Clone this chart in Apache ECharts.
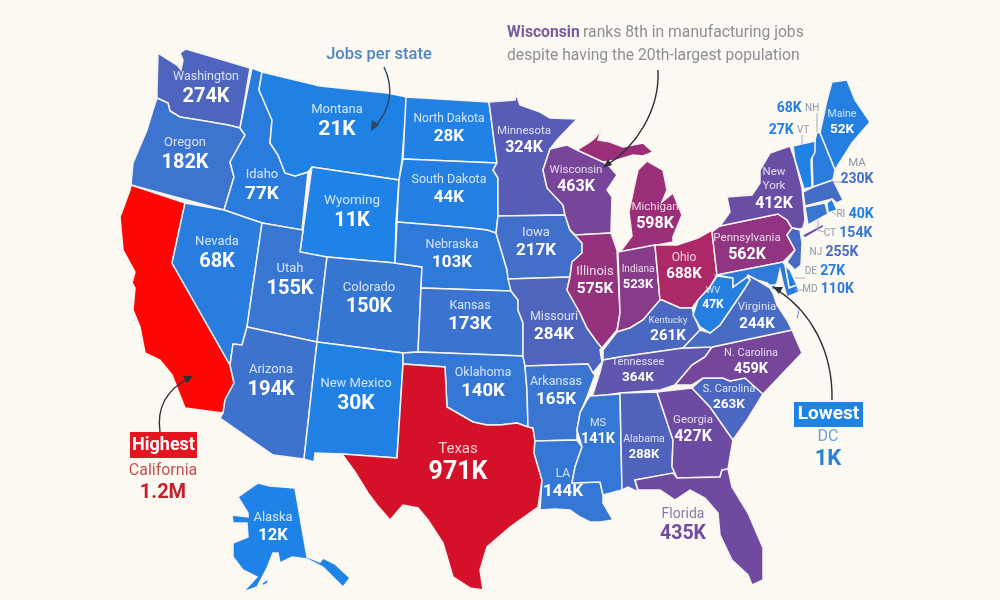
<!DOCTYPE html>
<html>
<head>
<meta charset="utf-8">
<style>html,body{margin:0;padding:0;background:#fbf9f2}#c{width:1000px;height:600px}</style>
<script src="https://cdn.jsdelivr.net/npm/echarts@6/dist/echarts.min.js"></script>
</head>
<body>
<div id="c"></div>
<script>
// ---- data (thousands of manufacturing jobs) ----
const states = ["Washington","Oregon","California","Idaho","Nevada","Montana","Wyoming","Utah","Arizona","Colorado","New Mexico","North Dakota","South Dakota","Nebraska","Kansas","Oklahoma","Texas","Minnesota","Iowa","Missouri","Arkansas","LA","Wisconsin","Illinois","Michigan","Indiana","Ohio","Kentucky","Tennessee","MS","Alabama","Georgia","Florida","S. Carolina","N. Carolina","Virginia","WV","Pennsylvania","New York","Maine","NH","VT","MA","RI","CT","NJ","DE","MD","DC","Alaska"];
const jobs = [274,182,1200,77,68,21,11,155,194,150,30,28,44,103,173,140,971,324,217,284,165,144,463,575,598,523,688,261,364,141,288,427,435,263,459,244,47,562,412,52,68,27,230,40,154,255,27,110,1,12];

// ---- colour scale ----
const colorStops = ["#1c83e8","#3f72cc","#6650a8","#9b2e78","#c4204f","#d80f22","#fd0606"];
const maxJobs = 1200;

// ---- map geometry: outlines (x,y of a 1000x600 frame) ----
const outlines = {
 "Washington":["158,53 169,60 178,66 181,70 183,60 180,53 186,49 250,68 240,128 228,125 205,121 180,117 170,111 168,103 157,98 157,90"],
 "Oregon":["157,98 168,103 170,111 180,117 205,121 228,125 240,128 245,135 230,162 234,177 224,210 131,185 133,163 147,130 153,110"],
 "California":["131,185 185,203 172,263 230,365 234,383 225,400 223,413 185,408 172,375 160,360 145,353 140,327 133,310 135,288 132,283 135,272 123,250 120,217 130,190"],
 "Idaho":["252,68 262,72 259,90 272,120 270,143 278,155 285,173 295,176 308,172 302,230 262,223 224,210 234,177 230,162 245,135 240,128"],
 "Nevada":["185,203 224,210 262,223 247,327 242,345 233,344 230,365 172,263"],
 "Montana":["262,72 320,86 387,93 407,97 402,160 399,180 312,167 308,172 295,176 285,173 278,155 270,143 272,120 259,90"],
 "Wyoming":["312,167 399,180 396,222 395,263 327,257 300,252"],
 "Utah":["262,223 303,230 300,252 327,257 317,342 247,327"],
 "Arizona":["247,327 317,342 304,459 273,455 220,418 223,413 225,400 234,383 230,365 233,344 242,345"],
 "Colorado":["327,257 395,263 422,267 421,288 418,352 403,353 317,342"],
 "New Mexico":["317,342 403,353 403,364 397,458 342,454 315,453 314,462 304,459"],
 "North Dakota":["406,97 489,102 497,163 403,159"],
 "South Dakota":["403,159 497,163 493,170 498,178 498,216 496,233 487,230 470,228 397,222 399,180"],
 "Nebraska":["397,222 470,228 487,230 496,233 502,253 507,270 511,291 421,288 422,267 395,263"],
 "Kansas":["421,288 511,291 518,300 518,310 523,323 523,356 418,352"],
 "Oklahoma":["403,353 418,352 523,356 525,366 527,390 528,427 517,423 500,425 487,425 473,422 447,407 445,367 403,364"],
 "Texas":["403,364 445,367 447,407 473,422 487,425 500,425 517,423 528,427 533,428 535,441 534,453 542,480 538,507 510,527 487,547 480,570 483,590 470,588 453,577 443,543 428,520 418,508 403,505 390,520 377,505 368,493 355,472 342,454 397,458"],
 "Minnesota":["489,102 515,100 516,94 520,105 540,112 550,118 577,119 557,140 550,149 543,170 547,188 563,205 565,215 498,216 498,178 493,170 497,163"],
 "Iowa":["498,216 565,215 570,230 582,243 582,253 572,262 570,277 508,279 507,270 502,253 496,233"],
 "Missouri":["508,279 570,277 567,290 580,313 587,328 597,342 602,348 600,350 602,362 593,373 588,364 525,366 523,356 523,323 518,310 518,300 511,291"],
 "Arkansas":["525,366 588,364 593,373 595,375 587,397 580,413 577,430 577,440 535,441 533,428 528,427 527,390"],
 "LA":["535,441 577,440 582,447 575,467 572,483 600,482 603,495 603,503 613,520 600,522 590,522 580,517 570,510 555,509 540,510 542,480 534,453"],
 "Wisconsin":["550,149 567,145 577,150 603,162 610,167 617,175 607,190 612,197 611,233 575,235 570,230 565,215 563,205 547,188 543,170"],
 "Illinois":["575,235 611,233 617,250 620,313 617,330 602,348 597,342 587,328 580,313 567,290 570,277 572,262 582,253 582,243 570,230"],
 "Michigan":["577,150 590,142 595,138 602,129 598,140 610,142 623,147 643,143 653,152 643,156 633,155 617,160 603,162","647,161 663,170 667,190 662,202 673,193 682,215 673,237 673,242 620,252 632,236 629,212 635,183 638,170"],
 "Indiana":["618,252 655,245 660,300 643,320 630,328 617,332 620,313"],
 "Ohio":["655,245 677,245 698,238 712,230 717,275 710,287 698,300 692,308 680,308 662,300 660,300"],
 "Kentucky":["603,360 603,350 617,332 630,328 643,320 660,300 662,300 680,308 692,308 695,318 700,330 683,348 620,357"],
 "Tennessee":["603,360 620,357 683,348 712,347 705,357 692,365 675,385 660,390 620,393 592,397 600,372"],
 "MS":["590,396 620,394 622,490 603,495 600,482 572,483 575,467 582,447 577,430 580,413 587,400"],
 "Alabama":["620,393 657,392 673,440 672,467 675,473 635,480 638,492 628,487 622,490"],
 "Georgia":["657,392 692,388 710,407 733,440 730,457 728,469 722,470 720,477 677,478 675,473 672,467 673,440"],
 "Florida":["635,480 673,473 677,478 720,477 722,470 728,469 732,487 748,513 763,548 763,580 752,585 748,575 732,560 720,535 718,513 705,498 690,490 675,500 660,490 638,490"],
 "S. Carolina":["692,388 703,378 723,378 730,381 745,378 763,394 747,420 733,440 710,407"],
 "N. Carolina":["712,347 792,330 802,353 783,373 763,394 745,378 730,381 723,378 703,378 692,385 675,385 692,365 705,357"],
 "Virginia":["683,348 700,330 710,333 720,325 737,300 745,288 750,280 748,275 757,280 770,288 773,293 777,305 787,320 792,330 712,347","796,318 799,306 801,306 798,320"],
 "WV":["717,276 733,278 733,287 747,277 750,280 745,288 737,300 720,325 710,333 700,327 693,315 698,300 710,287"],
 "Pennsylvania":["712,232 720,226 778,214 787,220 792,228 787,235 795,250 783,262 717,275"],
 "New York":["720,226 730,212 727,197 752,195 760,183 760,170 770,153 790,146 795,160 802,188 805,220 803,228 800,229 792,228 787,220 778,214","802,235 823,224 824,227 805,238"],
 "Maine":["820,133 827,100 832,82 847,80 855,100 870,122 852,143 835,170"],
 "NH":["817,132 820,133 835,170 833,180 813,187 812,157 815,140"],
 "VT":["793,146 815,141 815,152 811,160 812,187 804,189 795,160"],
 "MA":["803,192 813,187 833,180 837,188 843,200 837,203 832,199 805,206"],
 "RI":["827,203 832,199 837,210 828,213"],
 "CT":["805,207 825,203 828,214 808,225"],
 "NJ":["792,228 800,230 802,243 801,265 795,270 787,262 795,250 787,235"],
 "DE":["785,265 790,270 797,285 789,288"],
 "MD":["717,275 783,262 785,265 789,288 797,285 799,292 787,297 783,283 780,270 777,283 775,285 772,287 767,283 757,280 748,275 747,277 733,287 733,278"],
 "DC":["771,285 775,285 776,289 772,290"],
 "Alaska":["270,486 295,488 307,557 320,562 323,558 335,564 350,578 343,587 323,567 307,559 292,557 280,563 278,553 273,553 267,568 257,587 243,592 257,577 243,570 233,557 233,543 248,537 247,523 233,523 232,515 248,517 248,513 238,497 258,483","262,583 268,579 268,583 263,586"]
};

// ---- label layout: [centre x, centre y, name size, value size] ----
const labelLayout = {
 "Washington":[206,89,12.5,20],"Oregon":[185,155,13,20],"California":[163,483,16,20],"Idaho":[262,186,13,19],"Nevada":[217,254,13,20],
 "Montana":[337,122,13,21],"Wyoming":[352,213,13.5,20],"Utah":[290,281,13,20],"Arizona":[271,382,13,20],"Colorado":[369,299,13,19.5],"New Mexico":[356,396,13,21],
 "North Dakota":[449,129,12,17],"South Dakota":[449,190,12.5,17],"Nebraska":[452,255,12.5,17],"Kansas":[470,317,12.5,18.5],"Oklahoma":[483,384,12.5,18.5],
 "Texas":[458,464,15,25],"Minnesota":[524,141,11.5,16],"Iowa":[536,243,13,17],"Missouri":[554,327,12.5,17],"Arkansas":[556,392,12.5,17],"LA":[563,484,12,17],
 "Wisconsin":[576,180,11.5,16],"Illinois":[595,281,13,15.5],"Michigan":[655,217,11.5,16],"Indiana":[638,278,10,13],"Ohio":[684,267,12,15],
 "Kentucky":[668,330,9.5,15],"Tennessee":[638,371,11,13.5],"MS":[598,432,11,14.5],"Alabama":[644,448,10.5,13],"Georgia":[693,430,11.5,16],"Florida":[683,526,14,19.5],
 "S. Carolina":[729,398,11,13.5],"N. Carolina":[751,362,11,14.5],"Virginia":[757,317,11.5,15],"WV":[713,299,9.5,12],"Pennsylvania":[747,248,11.5,16],"New York":[774,189,11.5,16],
 "Maine":[842,123,10.5,13.5],"NH":[798,108,10,14],"VT":[789,130,10,14],"MA":[857,172,11.5,14],"RI":[855,214,10,14],"CT":[848,233,10,14],"NJ":[834,252,10,14],
 "DE":[825,271,10,14],"MD":[828,289,10,14],"DC":[828,450,16,22],"Alaska":[273,528,13,16.5]
};
const valueFirst = ["NH","VT"];
const nameFirst = ["RI","CT","NJ","DE","MD"];
const outsideLabels = ["NH","VT","MA","RI","CT","NJ","DE","MD","DC","Florida","California"];
const outsideNameColor = {"California":"#c9504e","DC":"#6ea3da","Florida":"#8b7aa8"};

function shade(v){ return echarts.color.lerp(v / maxJobs, colorStops); }
function fmt(v){ return v >= 1000 ? (v / 1000).toFixed(1) + "M" : v + "K"; }

const features = states.map(function(name){
  const polys = outlines[name].map(function(s){
    const ring = s.split(" ").map(function(p){ const a = p.split(",").map(Number); return [a[0], 600 - a[1]]; });
    ring.push(ring[0]);
    return [ring];
  });
  const L = labelLayout[name];
  return {type:"Feature", properties:{name:name, cp:[L[0], 600 - L[1]]}, geometry:{type:"MultiPolygon", coordinates:polys}};
});
echarts.registerMap("usa", {type:"FeatureCollection", features:features});

const seriesData = states.map(function(name, i){
  const L = labelLayout[name], out = outsideLabels.indexOf(name) >= 0, v = jobs[i];
  const vc = out ? (name === "California" ? "#c4202a" : (name === "DC" ? "#2a82d8" : shade(v))) : "#ffffff";
  const nc = out ? (outsideNameColor[name] || "#8d97a8") : "rgba(255,255,255,0.8)";
  const nm = name === "New York" ? "{n|New}\n{n|York}" : "{n|" + name + "}";
  let text = nm + "\n{v|" + fmt(v) + "}";
  if (valueFirst.indexOf(name) >= 0) text = "{v|" + fmt(v) + "} {n|" + name + "}";
  if (nameFirst.indexOf(name) >= 0) text = "{n|" + name + "} {v|" + fmt(v) + "}";
  return {name:name, value:v, label:{formatter:text, rich:{
    n:{fontFamily:"Roboto", fontSize:L[2], color:nc, lineHeight:L[2] + 3, align:"center"},
    v:{fontFamily:"Roboto", fontWeight:"bold", fontSize:L[3], color:vc, lineHeight:L[3] + 4, align:"center"}
  }}};
});

function line(pts){ return {type:"polyline", silent:true, z:100, shape:{points:pts}, style:{stroke:"#a3adbb", lineWidth:1, fill:null}}; }
function curve(p, color){ return {type:"bezierCurve", silent:true, z:100, shape:{x1:p[0],y1:p[1],cpx1:p[2],cpy1:p[3],cpx2:p[4],cpy2:p[5],x2:p[6],y2:p[7]}, style:{stroke:color, lineWidth:1.4, fill:null}}; }
function head(pts, color){ return {type:"polygon", silent:true, z:100, shape:{points:pts}, style:{fill:color}}; }
function txt(x, y, t, size, color, weight, align){ return {type:"text", silent:true, z:100, x:x, y:y, style:{text:t, fontFamily:"Roboto", fontSize:size, fill:color, fontWeight:weight || "normal", align:align || "center", verticalAlign:"middle"}}; }

const annotations = [
  txt(379, 55, "Jobs per state", 16.5, "#4d87c3", 500),
  curve([384,67, 396,92, 388,112, 374,128], "#2c4560"),
  head([[371,131],[372,120],[379,125]], "#2c4560"),
  {type:"text", silent:true, z:100, x:507, y:33, style:{text:"{b|Wisconsin} {g|ranks 8th in manufacturing jobs}", rich:{b:{fontFamily:"Roboto", fontWeight:"bold", fontSize:15.7, fill:"#7a5b9c", color:"#7a5b9c"}, g:{fontFamily:"Roboto", fontSize:15.7, fill:"#8e8f93", color:"#8e8f93"}}, verticalAlign:"middle"}},
  txt(507, 56, "despite having the 20th-largest population", 15.7, "#8e8f93", "normal", "left"),
  curve([658,70, 660,112, 634,148, 607,165], "#2b3038"),
  head([[603,168],[608,159],[612,165]], "#2b3038"),
  curve([160,432, 156,405, 170,388, 189,378], "#2b3038"),
  head([[193,376],[183,376],[187,383]], "#2b3038"),
  {type:"rect", silent:true, z:100, shape:{x:130,y:432,width:67,height:26}, style:{fill:"#e5141e"}},
  txt(163.5, 445, "Highest", 18, "#ffffff", "bold"),
  curve([832,400, 833,350, 810,312, 779,291], "#2b3038"),
  head([[773,287],[783,287],[779,294]], "#2b3038"),
  {type:"rect", silent:true, z:100, shape:{x:794,y:402,width:69,height:25}, style:{fill:"#1d84e6"}},
  txt(828.5, 414.5, "Lowest", 19, "#ffffff", "bold"),
  line([[817,113],[817,132]]),
  line([[802,135],[802,145]]),
  line([[833,182],[843,182]]),
  line([[832,212],[836,215]]),
  line([[818,220],[818,230],[824,232]]),
  line([[795,278],[805,278]]),
  line([[795,290],[803,290]])
];

const chart = echarts.init(document.getElementById("c"), null, {renderer:"canvas"});
chart.setOption({
  backgroundColor:"#fbf9f2",
  animation:false,
  visualMap:{show:false, type:"continuous", min:0, max:maxJobs, inRange:{color:colorStops}, seriesIndex:0},
  series:[{
    type:"map", map:"usa", roam:false, silent:true,
    boundingCoords:[[0,600],[1000,0]],
    layoutCenter:["50%","50%"], layoutSize:1000, aspectScale:1,
    itemStyle:{borderColor:"#f7f3ee", borderWidth:1.5},
    emphasis:{disabled:true},
    label:{show:true},
    data:seriesData
  }],
  graphic:{elements:annotations}
});
</script>
</body>
</html>
